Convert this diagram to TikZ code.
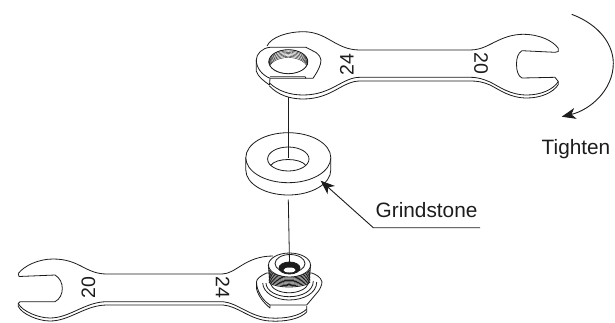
\documentclass[tikz,border=0pt]{standalone}
\usepackage{fontspec}
\setmainfont{Liberation Sans}
\usetikzlibrary{arrows.meta}
\definecolor{ink}{HTML}{1C1C1C}
\tikzset{
  part/.style={draw=ink,line width=0.8pt,line join=round},
  axisline/.style={draw=ink,line width=0.8pt},
  lead/.style={draw=ink,line width=0.9pt,-{Stealth[length=14pt,width=11pt,inset=4pt]}},
  label/.style={text=ink,font=\fontsize{20.8}{22}\selectfont,inner sep=0pt,anchor=base west},
  size/.style={text=ink,font=\fontsize{19.5}{20}\selectfont,inner sep=0pt,anchor=center},
}
\begin{document}
\begin{tikzpicture}[x=1pt,y=-1pt]
\useasboundingbox (0,0) rectangle (615,322);
% top wrench
\path[part] (267,46) .. controls (271,37) and (288,31.7) .. (303,31.7)
  .. controls (328,31.7) and (335,50) .. (360,50) -- (470,50)
  .. controls (482,50) and (490,44) .. (497,41)
  .. controls (505,37) and (514,34.3) .. (523,34.3)
  .. controls (540,34.3) and (553,41) .. (558.3,48.3) -- (558.3,51.5) -- (555,52.3) -- (522,50.7)
  .. controls (518,53) and (516.5,58) .. (516.5,64)
  .. controls (516.5,71) and (518,76) .. (522,78) -- (555,77.3) -- (558.3,81.5)
  .. controls (553,90) and (540,95) .. (527,95)
  .. controls (510,95) and (500,87) .. (490,82)
  .. controls (483,79) and (478,77.3) .. (470,77.3) -- (360,77.3)
  .. controls (342,77.3) and (332,95) .. (303,95)
  .. controls (290,95) and (278,91) .. (269.5,83);
\path[part] (558.3,81.5) -- (558.3,84.5) .. controls (553,93) and (540,98) .. (527,98)
  .. controls (510,98) and (500,90) .. (490,85)
  .. controls (483,82) and (478,81) .. (470,81) -- (360,81)
  .. controls (342,81) and (332,99) .. (303,99)
  .. controls (290,99) and (278,95) .. (269.5,86);
% top ring
\path[part,fill=white] (270,47.3) -- (306,47.3) -- (316,52.5)
  .. controls (319,55) and (321,57.5) .. (321,60) .. controls (321,65) and (318,71) .. (313,78.3) -- (270,78.3)
  .. controls (262,75) and (256.3,68) .. (256.3,60)
  .. controls (256.3,54) and (262,48) .. (270,47.3) -- cycle;
\path[part] (256.3,60) -- (256.3,71) .. controls (258,77) and (264,81) .. (269.5,85) -- (270,78.3);
\path[part] (270,76.7) -- (305,76.7) -- (306,78.3);
\begin{scope}
  \clip (288.3,61.7) ellipse [x radius=19.5,y radius=12];
  \foreach \d in {0,1.3,...,8}{
    \draw[ink,line width=0.4pt] (288.3,{61.7+\d}) ellipse [x radius=19.5,y radius=12];
  }
\end{scope}
\path[part] (288.3,61.7) ellipse [x radius=19.5,y radius=12];
% axis
\coordinate (a1) at (288.3,97);
\coordinate (a2) at (288.3,158);
\coordinate (a3) at (288.3,199.5);
\coordinate (a4) at (289.5,263);
% grindstone
\path[part,fill=white] (245.8,157.7) -- (245.8,170)
  arc[start angle=180,end angle=0,x radius=42.5,y radius=25] -- (330.8,157.7);
\path[part,fill=white] (288.3,157.7) ellipse [x radius=42.5,y radius=25];
\path[part] (288.3,159) ellipse [x radius=20.7,y radius=12];
\draw[axisline] (a1) -- (a2);
\path[part] (270.6,165.5) .. controls (276,157.5) and (300,157.5) .. (306,165.5);
% leader
\coordinate (leadstart) at (480,227.7);
\coordinate (leadbend) at (373.3,227.7);
\coordinate (leadtip) at (320.7,180.7);
\draw[lead] (leadstart) -- (leadbend) -- (leadtip);
\node[label] (grind) at (375.5,217) {Grindstone};
% tighten
\coordinate (t1) at (571.7,14.3);
\coordinate (t2) at (561.7,116.7);
\draw[lead] (t1) .. controls (600,25) and (613.3,45) .. (613.3,63.3)
  .. controls (613.3,90) and (590,110) .. (t2);
\node[label] (tight) at (541.5,154) {Tighten};
% sizes
\node[size,rotate=90] (s24a) at (346.7,64.3) {24};
\node[size,rotate=-90] (s20a) at (481,63.5) {20};
% bottom wrench
\path[part] (18.3,273.5) .. controls (24,266) and (38,259) .. (53,259)
  .. controls (80,259) and (85,274) .. (107,274) -- (222,274)
  .. controls (236,274) and (245,256) .. (273,256);
\path[part] (18.3,273.5) -- (19,276.5) -- (55,275)
  .. controls (60,278) and (62.3,283) .. (62.3,288.5)
  .. controls (62.3,294) and (60,299) .. (55,301.7) -- (20,301.7) -- (18.3,303.5)
  .. controls (22,311) and (38,318) .. (50,318)
  .. controls (70,318) and (85,301.7) .. (107,301.7) -- (223,301.7)
  .. controls (238,303) and (250,317) .. (270,318)
  .. controls (285,319) and (300,316) .. (306.7,309);
\path[part] (18.3,303.5) -- (18.3,306.5)
  .. controls (22,314) and (38,321) .. (50,321)
  .. controls (70,321) and (85,305) .. (107,305) -- (223,305)
  .. controls (238,306) and (250,320) .. (270,321)
  .. controls (285,322) and (300,319) .. (306.7,312) -- (306.7,306);
\node[size,rotate=90] (s20b) at (88.3,287.5) {20};
\node[size,rotate=-90] (s24b) at (222.7,287.5) {24};
% nut base
\path[part,fill=white] (270,305) -- (306.7,305) -- (316,294)
  .. controls (320,290) and (322,285) .. (322,281.7)
  .. controls (321,277) and (315,274) .. (311.7,273) -- (266.7,273)
  .. controls (260,276) and (256.5,279) .. (256.5,282)
  .. controls (256.5,290) and (262,300) .. (270,305) -- cycle;
\path[part] (256.5,282) -- (256.5,288.5) .. controls (258,296) and (264,303) .. (270,308) -- (270,305);
\path[part] (262.7,283) .. controls (263,293) and (276,300) .. (289,300)
  .. controls (304,300) and (316.7,293) .. (316.7,282);
\path[part] (266,283) .. controls (266,291) and (277,296.7) .. (289,296.7)
  .. controls (302,296.7) and (313.3,291) .. (313.3,281);
% nut body
\path[part,fill=white] (268.3,265) -- (270,283)
  .. controls (274,296) and (304,296) .. (308.7,283) -- (310.7,265);
\foreach \d in {0,1.5,...,12}{
  \path[draw=ink,line width=0.8pt] (268.8,{270+\d}) .. controls (274,{279+\d*0.8}) and (304,{279+\d*0.8}) .. (310.2,{270+\d});
}
\path[part,fill=white] (289.5,265) ellipse [x radius=21,y radius=12];
\path[part] (290,263.5) ellipse [x radius=15,y radius=9];
\path[part,fill=ink] (289.5,268) ellipse [x radius=10.5,y radius=6];
\path[fill=white] (289.5,270) ellipse [x radius=6,y radius=2.5];
\draw[axisline] (a3) -- (a4);
\end{tikzpicture}
\end{document}
